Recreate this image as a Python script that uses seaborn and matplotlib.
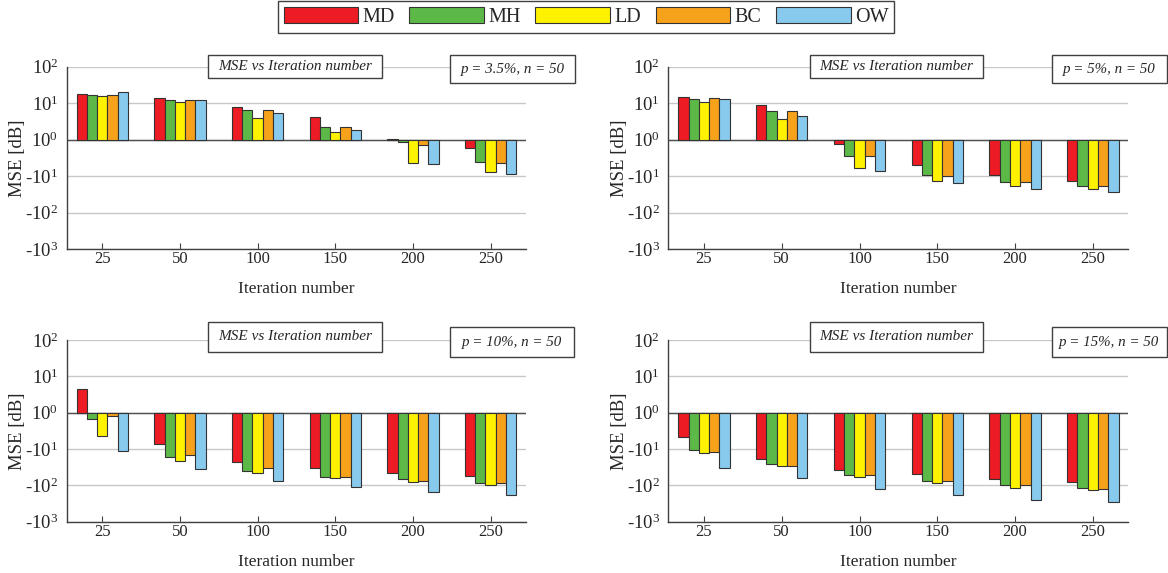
import numpy as np
import pandas as pd
import matplotlib
matplotlib.use("Agg")
import matplotlib.pyplot as plt
import seaborn as sns
from matplotlib.patches import Rectangle, Patch

# ---------------- data ----------------
iterations = ["25", "50", "100", "150", "200", "250"]
methods = ["MD", "MH", "LD", "BC", "OW"]
colors = ["#ED1C24", "#5DB947", "#FFF200", "#F7A21B", "#88C9EE"]
panel_labels = ["p = 3.5%, n = 50", "p = 5%, n = 50", "p = 10%, n = 50", "p = 15%, n = 50"]
title_text = "MSE vs Iteration number"
ytick_pos = [2, 1, 0, -1, -2, -3]
ytick_labels = [r"$10^{2}$", r"$10^{1}$", r"$10^{0}$", r"-$10^{1}$", r"-$10^{2}$", r"-$10^{3}$"]

# MSE as signed decade exponent (position on the signed-log axis)
p35_MD = [1.25, 1.13, 0.91, 0.62, 0.03, -0.22]
p35_MH = [1.23, 1.09, 0.81, 0.36, -0.05, -0.60]
p35_LD = [1.19, 1.02, 0.60, 0.20, -0.64, -0.87]
p35_BC = [1.23, 1.09, 0.82, 0.35, -0.14, -0.64]
p35_OW = [1.30, 1.10, 0.74, 0.26, -0.66, -0.94]

p5_MD = [1.16, 0.95, -0.12, -0.68, -0.97, -1.12]
p5_MH = [1.12, 0.80, -0.44, -0.96, -1.15, -1.26]
p5_LD = [1.03, 0.56, -0.78, -1.12, -1.26, -1.36]
p5_BC = [1.14, 0.80, -0.44, -0.98, -1.17, -1.27]
p5_OW = [1.11, 0.64, -0.86, -1.19, -1.35, -1.43]

p10_MD = [0.65, -0.86, -1.35, -1.53, -1.65, -1.73]
p10_MH = [-0.17, -1.23, -1.60, -1.76, -1.83, -1.93]
p10_LD = [-0.64, -1.34, -1.66, -1.81, -1.91, -1.99]
p10_BC = [-0.09, -1.17, -1.53, -1.77, -1.87, -1.94]
p10_OW = [-1.06, -1.55, -1.87, -2.05, -2.17, -2.26]

p15_MD = [-0.66, -1.27, -1.57, -1.70, -1.82, -1.91]
p15_MH = [-1.03, -1.42, -1.71, -1.88, -1.99, -2.06]
p15_LD = [-1.12, -1.47, -1.77, -1.93, -2.06, -2.14]
p15_BC = [-1.07, -1.46, -1.72, -1.88, -2.00, -2.09]
p15_OW = [-1.51, -1.80, -2.09, -2.27, -2.39, -2.47]

panels = [
    [p35_MD, p35_MH, p35_LD, p35_BC, p35_OW],
    [p5_MD, p5_MH, p5_LD, p5_BC, p5_OW],
    [p10_MD, p10_MH, p10_LD, p10_BC, p10_OW],
    [p15_MD, p15_MH, p15_LD, p15_BC, p15_OW],
]

# ---------------- style ----------------
sns.set_style("white")
plt.rcParams["font.family"] = ["Liberation Serif", "DejaVu Serif"]
plt.rcParams["mathtext.fontset"] = "custom"
plt.rcParams["mathtext.rm"] = "Liberation Serif"
plt.rcParams["mathtext.it"] = "Liberation Serif:italic"
plt.rcParams["mathtext.default"] = "regular"

fig = plt.figure(figsize=(11.68, 5.73), dpi=100)

axes_rects = [
    [0.0571, 0.5649, 0.3932, 0.3187],
    [0.5722, 0.5649, 0.3938, 0.3187],
    [0.0571, 0.0895, 0.3932, 0.3171],
    [0.5722, 0.0895, 0.3938, 0.3171],
]
# (title box), (parameter box) in axes fraction: x0, y0, w, h
title_boxes = [
    (0.3076, 0.938, 0.3788, 0.126),
    (0.3080, 0.938, 0.3760, 0.126),
    (0.3076, 0.9356, 0.3788, 0.165),
    (0.3080, 0.9356, 0.3760, 0.165),
]
param_boxes = [
    (0.8345, 0.909, 0.2722, 0.155),
    (0.8335, 0.909, 0.2500, 0.155),
    (0.8345, 0.908, 0.2700, 0.162),
    (0.8335, 0.908, 0.2500, 0.162),
]

edge = "#333333"
for i, rect in enumerate(axes_rects):
    ax = fig.add_axes(rect)
    series = panels[i]
    df = pd.DataFrame({
        "Iteration": np.tile(iterations, len(methods)),
        "Method": np.repeat(methods, len(iterations)),
        "MSE": np.concatenate(series),
    })
    sns.barplot(data=df, x="Iteration", y="MSE", hue="Method",
                order=iterations, hue_order=methods, palette=colors,
                width=0.66, edgecolor=edge, linewidth=0.8,
                errorbar=None, legend=False, ax=ax, zorder=3, saturation=1)
    ax.set_xlim(-0.458, 5.455)
    ax.set_ylim(-3, 2)
    ax.set_yticks(ytick_pos)
    ax.set_yticklabels(ytick_labels, fontsize=13.5)
    ax.yaxis.grid(True, color="#c8c8c8", lw=1)
    ax.xaxis.grid(False)
    ax.set_axisbelow(True)
    ax.axhline(0, color="#505050", lw=1, zorder=2.5)
    for s in ["top", "right"]:
        ax.spines[s].set_visible(False)
    for s in ["left", "bottom"]:
        ax.spines[s].set_color("#404040")
        ax.spines[s].set_linewidth(1)
    ax.tick_params(axis="x", direction="in", length=4, color="#404040",
                   labelsize=12, pad=1.5, bottom=True)
    ax.tick_params(axis="y", length=0, pad=6)
    ax.set_xlabel("Iteration number", fontsize=12.5, labelpad=10)
    ax.set_ylabel("MSE [dB]", fontsize=13.5)
    ax.yaxis.set_label_coords(-0.088, 0.5)

    x0, y0, w, h = title_boxes[i]
    ax.add_patch(Rectangle((x0, y0), w, h, transform=ax.transAxes, fc="white",
                           ec="#404040", lw=1, clip_on=False, zorder=5))
    ax.text(x0 + w / 2, y0 + h / 2, title_text, transform=ax.transAxes,
            ha="center", va="center", style="italic", fontsize=11, zorder=6)
    x0, y0, w, h = param_boxes[i]
    ax.add_patch(Rectangle((x0, y0), w, h, transform=ax.transAxes, fc="white",
                           ec="#404040", lw=1, clip_on=False, zorder=5))
    ax.text(x0 + w / 2, y0 + h / 2, panel_labels[i], transform=ax.transAxes,
            ha="center", va="center", style="italic", fontsize=10.8, zorder=6)

handles = [Patch(facecolor=c, edgecolor=edge, linewidth=0.8, label=m)
           for c, m in zip(colors, methods)]
leg = fig.legend(handles=handles, loc="center", bbox_to_anchor=(586 / 1168, 1 - 17 / 573),
                 ncol=5, frameon=True, fancybox=False, fontsize=14.5,
                 handlelength=3.7, handleheight=0.8, handletextpad=0.2,
                 columnspacing=0.75, borderpad=0.3, borderaxespad=0, framealpha=1)
leg.get_frame().set_edgecolor("#404040")
leg.get_frame().set_linewidth(1)

fig.savefig("out.png", dpi=100)
